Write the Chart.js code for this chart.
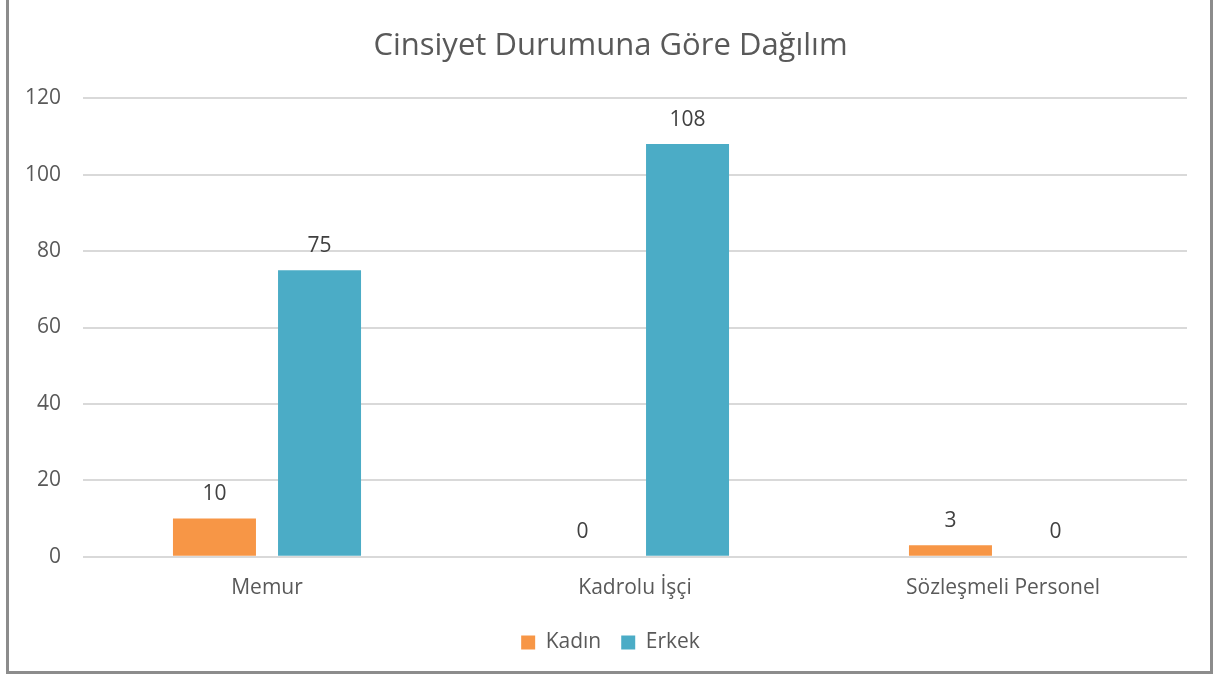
<!DOCTYPE html>
<html>
<head>
<meta charset="utf-8">
<script src="https://cdn.jsdelivr.net/npm/chart.js@4/dist/chart.umd.min.js"></script>
<style>
  body { margin: 0; background: #fff; }
  #wrap { position: relative; width: 1221px; height: 680px; overflow: hidden; }
  #frame { position: absolute; left: 6px; top: -4px; width: 1207px; height: 678px; border: 3px solid #8c8c8c; box-sizing: border-box; pointer-events: none; }
</style>
</head>
<body>
<div id="wrap">
  <canvas id="grafico" width="1221" height="680"></canvas>
  <div id="frame"></div>
</div>
<script>
const categorias = ['Memur', 'Kadrolu İşçi', 'Sözleşmeli Personel'];
const kadin = [10, 0, 3];
const erkek = [75, 108, 0];
const yTicks = [0, 20, 40, 60, 80, 100, 120];

const fonte = "'Open Sans', 'Noto Sans', sans-serif";

// rótulos de valor acima das barras
const rotulos = {
  id: 'rotulos',
  afterDatasetsDraw(chart) {
    const c = chart.ctx;
    c.save();
    c.font = '21px ' + fonte;
    c.fillStyle = '#404040';
    c.textAlign = 'center';
    c.textBaseline = 'bottom';
    chart.data.datasets.forEach((ds, i) => {
      chart.getDatasetMeta(i).data.forEach((bar, j) => {
        c.fillText(ds.data[j], bar.x, bar.y - 14);
      });
    });
    c.restore();
  }
};

const ctx = document.getElementById('grafico').getContext('2d');

const chart = new Chart(ctx, {
  type: 'bar',
  data: {
    labels: categorias,
    datasets: [
      {
        label: 'Kadın',
        data: kadin,
        backgroundColor: '#F79646',
        categoryPercentage: 0.571,
        barPercentage: 0.79
      },
      {
        label: 'Erkek',
        data: erkek,
        backgroundColor: '#4BACC6',
        categoryPercentage: 0.571,
        barPercentage: 0.79
      }
    ]
  },
  options: {
    animation: false,
    responsive: false,
    layout: { padding: { left: 0, right: 0, top: 28, bottom: 17 } },
    plugins: {
      title: {
        display: true,
        text: 'Cinsiyet Durumuna Göre Dağılım',
        color: '#595959',
        font: { family: fonte, size: 31, weight: 'normal' },
        padding: { top: 0, bottom: 33 }
      },
      legend: {
        position: 'bottom',
        labels: {
          color: '#595959',
          font: { family: fonte, size: 21 },
          boxWidth: 14,
          boxHeight: 14,
          padding: 20
        }
      },
      tooltip: { enabled: false }
    },
    scales: {
      x: {
        grid: { display: false },
        border: { display: false },
        ticks: { color: '#595959', font: { family: fonte, size: 21 }, padding: 11 }
      },
      y: {
        min: 0,
        max: 120,
        afterBuildTicks: (axis) => { axis.ticks = yTicks.map(v => ({ value: v })); },
        afterFit: (axis) => { axis.width = 83; },
        grid: { color: '#d9d9d9', lineWidth: 2, drawTicks: false },
        border: { display: false },
        ticks: { color: '#595959', font: { family: fonte, size: 21 }, padding: 22 }
      },
      // eixo vazio só para reservar a margem direita
      yDir: {
        position: 'right',
        min: 0,
        max: 120,
        afterFit: (axis) => { axis.width = 34; },
        grid: { display: false },
        border: { display: false },
        ticks: { display: false }
      }
    }
  },
  plugins: [rotulos]
});
</script>
</body>
</html>
